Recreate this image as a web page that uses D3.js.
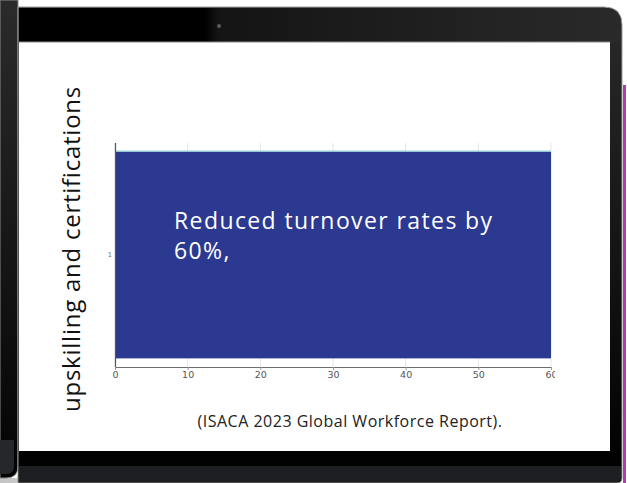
<!DOCTYPE html>
<html>
<head>
<meta charset="utf-8">
<script src="https://cdn.jsdelivr.net/npm/d3@7/dist/d3.min.js"></script>
<style>
  html, body { margin: 0; padding: 0; background: #ffffff; }
  svg { display: block; }
</style>
</head>
<body>
<svg id="chart" width="627" height="483"></svg>
<script>
// Chart data
const categories = ["1"];
const values = [60];
const xTicks = [0, 10, 20, 30, 40, 50, 60];
const barLabel = ["Reduced turnover rates by", "60%,"];
const yTitle = "upskilling and certifications";
const caption = "(ISACA 2023 Global Workforce Report).";

const svg = d3.select("#chart");
const defs = svg.append("defs");

// ---- Device frame (decorative) ----
const leftGrad = defs.append("linearGradient").attr("id", "leftGrad")
  .attr("x1", 0).attr("y1", 0).attr("x2", 0).attr("y2", 1);
leftGrad.append("stop").attr("offset", "0%").attr("stop-color", "#2b2b2b");
leftGrad.append("stop").attr("offset", "100%").attr("stop-color", "#030303");

const topGrad = defs.append("linearGradient").attr("id", "topGrad")
  .attr("x1", 0).attr("y1", 0).attr("x2", 1).attr("y2", 0);
topGrad.append("stop").attr("offset", "0%").attr("stop-color", "#000000");
topGrad.append("stop").attr("offset", "31%").attr("stop-color", "#000000");
topGrad.append("stop").attr("offset", "33%").attr("stop-color", "#141414");
topGrad.append("stop").attr("offset", "100%").attr("stop-color", "#2a2a2a");

const rightGrad = defs.append("linearGradient").attr("id", "rightGrad")
  .attr("x1", 0).attr("y1", 0).attr("x2", 0).attr("y2", 1);
rightGrad.append("stop").attr("offset", "0%").attr("stop-color", "#2a2a2a");
rightGrad.append("stop").attr("offset", "100%").attr("stop-color", "#000000");

const baseGrad = defs.append("linearGradient").attr("id", "baseGrad")
  .attr("x1", 0).attr("y1", 0).attr("x2", 1).attr("y2", 0);
baseGrad.append("stop").attr("offset", "0%").attr("stop-color", "#c4c4c4");
baseGrad.append("stop").attr("offset", "70%").attr("stop-color", "#d8d8d8");
baseGrad.append("stop").attr("offset", "100%").attr("stop-color", "#ffffff");

// second device on the left edge
svg.append("rect").attr("x", 0).attr("y", 478).attr("width", 125).attr("height", 5)
  .attr("fill", "url(#baseGrad)");
svg.append("path")
  .attr("d", "M0,0 H18 V466 Q18,478 6,478 H0 Z")
  .attr("fill", "url(#leftGrad)").attr("stroke", "#8a8a8a").attr("stroke-width", 1);
svg.append("path")
  .attr("d", "M0,440 H14 V466 Q14,474 6,474 H0 Z")
  .attr("fill", "#26272b");

// magenta edge on the right
svg.append("rect").attr("x", 623).attr("y", 85).attr("width", 3).attr("height", 398)
  .attr("fill", "#b23cb0");

// main laptop lid
svg.append("path")
  .attr("d", "M18,7 H604 Q622,7 622,25 V478 Q622,483 617,483 H18 Z")
  .attr("fill", "url(#rightGrad)").attr("stroke", "#9a9a9a").attr("stroke-width", 1);
svg.append("path")
  .attr("d", "M19,8 H604 Q621,8 621,25 V42 H19 Z")
  .attr("fill", "url(#topGrad)");
// bottom bezel
svg.append("rect").attr("x", 19).attr("y", 451).attr("width", 602).attr("height", 15)
  .attr("fill", "#020202");
svg.append("path")
  .attr("d", "M19,466 H621 V478 Q621,482 617,482 H19 Z")
  .attr("fill", "#1e1f23");
// camera
svg.append("circle").attr("cx", 219).attr("cy", 26).attr("r", 2).attr("fill", "#5a5a5a");

// screen
svg.append("rect").attr("x", 19).attr("y", 42).attr("width", 591).attr("height", 409)
  .attr("fill", "#ffffff");
svg.append("line").attr("x1", 19).attr("x2", 610).attr("y1", 42).attr("y2", 42)
  .attr("stroke", "#8a8a8a").attr("stroke-width", 1);

// ---- Bar chart ----
defs.append("clipPath").attr("id", "plotClip")
  .append("rect").attr("x", 19).attr("y", 42).attr("width", 536).attr("height", 409);

const chart = svg.append("g").attr("clip-path", "url(#plotClip)");

const x = d3.scaleLinear().domain([0, 60]).range([115, 551]);
const y = d3.scaleBand().domain(categories).range([143, 367]).padding(0.04);

// vertical grid
chart.append("g")
  .selectAll("line").data(xTicks).join("line")
  .attr("x1", d => x(d)).attr("x2", d => x(d))
  .attr("y1", 143).attr("y2", 367)
  .attr("stroke", "#e6e6e6").attr("stroke-width", 1);

// bars
const data = categories.map((c, i) => ({ c, v: values[i] }));
chart.append("g").selectAll("rect").data(data).join("rect")
  .attr("x", x(0))
  .attr("y", d => y(d.c))
  .attr("width", d => x(d.v) - x(0))
  .attr("height", y.bandwidth())
  .attr("fill", "#2b3990");
chart.append("g").selectAll("line").data(data).join("line")
  .attr("x1", x(0)).attr("x2", d => x(d.v))
  .attr("y1", d => y(d.c) - 0.5).attr("y2", d => y(d.c) - 0.5)
  .attr("stroke", "#8fd0d6").attr("stroke-width", 1.2);

// x axis
const xAxis = chart.append("g")
  .attr("transform", "translate(0,367)")
  .call(d3.axisBottom(x).tickValues(xTicks).tickSize(3).tickPadding(1.5).tickSizeOuter(0));
xAxis.select(".domain").attr("stroke", "#6e6e6e").attr("stroke-width", 1.2);
xAxis.selectAll(".tick line").attr("stroke", "#9a9a9a");
xAxis.selectAll("text")
  .attr("fill", "#555").attr("font-family", "DejaVu Sans, sans-serif").attr("font-size", 9.5);

// y axis
const yAxis = chart.append("g")
  .attr("transform", "translate(115,0)")
  .call(d3.axisLeft(y).tickSize(0).tickPadding(3));
yAxis.select(".domain").attr("d", "M0.5,143V367").attr("stroke", "#555").attr("stroke-width", 1.2);
yAxis.selectAll("text")
  .attr("fill", "#777").attr("font-family", "DejaVu Sans, sans-serif").attr("font-size", 7);

// label inside bar
const lbl = chart.append("text")
  .attr("x", x(0) + 59)
  .attr("y", y(categories[0]) + 77)
  .attr("fill", "#ffffff")
  .attr("font-family", "Open Sans, sans-serif")
  .attr("font-size", 23)
  .attr("letter-spacing", 1.4);
barLabel.forEach((t, i) => {
  lbl.append("tspan").attr("x", x(0) + 59).attr("dy", i === 0 ? 0 : 30).text(t);
});

// y title
svg.append("text")
  .attr("transform", "translate(80,249) rotate(-90)")
  .attr("text-anchor", "middle")
  .attr("fill", "#111")
  .attr("font-family", "Open Sans, sans-serif")
  .attr("font-size", 24)
  .attr("letter-spacing", 0.75)
  .text(yTitle);

// caption
svg.append("text")
  .attr("x", 350).attr("y", 427)
  .attr("text-anchor", "middle")
  .attr("fill", "#222")
  .attr("font-family", "Open Sans, sans-serif")
  .attr("font-size", 16)
  .attr("letter-spacing", 0.5)
  .text(caption);
</script>
</body>
</html>
